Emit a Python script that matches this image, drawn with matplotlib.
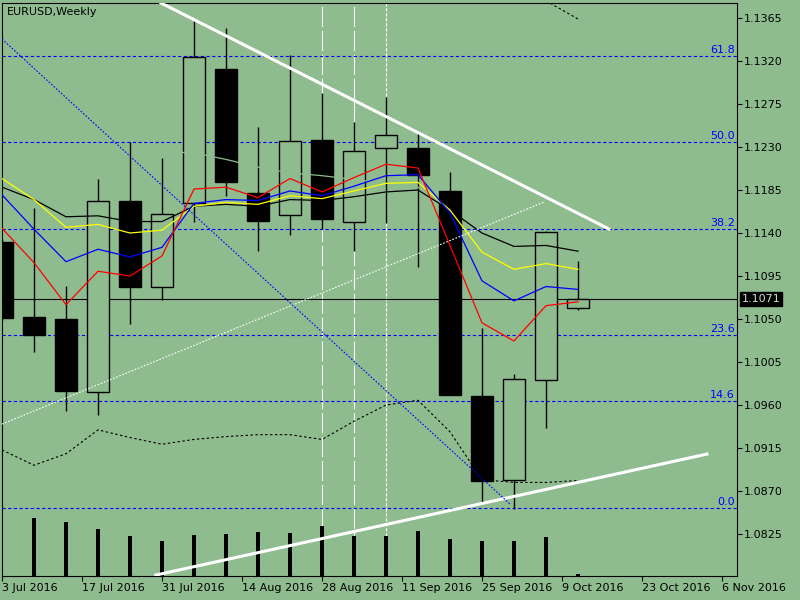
import matplotlib
matplotlib.use('Agg')
import matplotlib.pyplot as plt
from matplotlib.patches import Rectangle
from matplotlib.transforms import blended_transform_factory

# EURUSD weekly candles (bar index 0..18)
bar_idx = list(range(19))
opens  = [1.1131, 1.1052, 1.1050, 1.0974, 1.1173, 1.1083, 1.1171, 1.1312, 1.1182, 1.1159,
          1.1237, 1.1152, 1.1229, 1.1229, 1.1184, 1.0969, 1.0882, 1.0986, 1.1062]
highs  = [1.1134, 1.1166, 1.1085, 1.1197, 1.1235, 1.1218, 1.1362, 1.1355, 1.1251, 1.1326,
          1.1286, 1.1256, 1.1282, 1.1245, 1.1204, 1.1041, 1.0992, 1.1142, 1.1111]
lows   = [1.1048, 1.1016, 1.0954, 1.0950, 1.1045, 1.1070, 1.1152, 1.1179, 1.1121, 1.1138,
          1.1144, 1.1121, 1.1151, 1.1104, 1.0970, 1.0857, 1.0851, 1.0936, 1.1059]
closes = [1.1051, 1.1033, 1.0975, 1.1173, 1.1083, 1.1160, 1.1324, 1.1193, 1.1153, 1.1236,
          1.1155, 1.1226, 1.1243, 1.1201, 1.0971, 1.0881, 1.0987, 1.1141, 1.1071]

# moving averages
ma_red    = [1.1145, 1.1109, 1.1065, 1.1100, 1.1095, 1.1116, 1.1186, 1.1188, 1.1177, 1.1197,
             1.1183, 1.1198, 1.1212, 1.1208, 1.1127, 1.1046, 1.1027, 1.1064, 1.1068]
ma_blue   = [1.1180, 1.1144, 1.1110, 1.1123, 1.1115, 1.1125, 1.1171, 1.1175, 1.1174, 1.1184,
             1.1179, 1.1189, 1.1200, 1.1201, 1.1161, 1.1090, 1.1069, 1.1084, 1.1081]
ma_yellow = [1.1197, 1.1175, 1.1146, 1.1149, 1.1140, 1.1143, 1.1168, 1.1172, 1.1170, 1.1179,
             1.1176, 1.1184, 1.1192, 1.1193, 1.1164, 1.1120, 1.1102, 1.1108, 1.1102]
ma_black  = [1.1188, 1.1175, 1.1157, 1.1158, 1.1152, 1.1152, 1.1168, 1.1170, 1.1168, 1.1175,
             1.1174, 1.1178, 1.1183, 1.1185, 1.1164, 1.1140, 1.1126, 1.1127, 1.1121]
# this one is drawn in the background colour, so it only shows on black bodies
ma_hidden_idx = list(range(5, 15))
ma_hidden = [1.1225, 1.1224, 1.1217, 1.1209, 1.1203, 1.1200, 1.1196, 1.1192, 1.1188, 1.1164]

# envelope (dashed)
band_low = [1.0913, 1.0897, 1.0909, 1.0934, 1.0926, 1.0919, 1.0924, 1.0927, 1.0929, 1.0929,
            1.0924, 1.0943, 1.0960, 1.0965, 1.0932, 1.0882, 1.0879, 1.0879, 1.0881]
band_up_idx = [17, 18]
band_up = [1.1383, 1.1364]

# volume
vol_idx = list(range(1, 19))
volumes = [58, 54, 47, 40, 35, 41, 42, 44, 43, 50, 40, 40, 45, 37, 35, 35, 39, 2]

# fibonacci
fib_low = 1.08522
fib_high = 1.16176
fib_levels = [0.0, 14.6, 23.6, 38.2, 50.0, 61.8]

# trend lines (bar, price)
trend_top = [(4.97, 1.13807), (18.97, 1.11442)]
trend_bottom = [(4.81, 1.07821), (22.03, 1.09087)]
trend_dotted_white = [(0.0, 1.09401), (16.94, 1.11724)]
trend_dotted_blue = [(0.0, 1.13430), (15.875, 1.08564)]
vlines_long = [10, 11]
vlines_short = [12]

bid = 1.1071

y_ticks = [1.0825, 1.0870, 1.0915, 1.0960, 1.1005, 1.1050, 1.1095,
           1.1140, 1.1185, 1.1230, 1.1275, 1.1320, 1.1365]
x_ticks = [0, 2.5, 5, 7.5, 10, 12.5, 15, 17.5, 20, 22.5]
x_labels = ['3 Jul 2016', '17 Jul 2016', '31 Jul 2016', '14 Aug 2016', '28 Aug 2016',
            '11 Sep 2016', '25 Sep 2016', '9 Oct 2016', '23 Oct 2016', '6 Nov 2016']

bg = '#8fbc8f'
plt.rcParams['font.family'] = ['DejaVu Sans']

fig = plt.figure(figsize=(8, 6), dpi=100, facecolor=bg)
ax = fig.add_axes([2 / 800, 24 / 600, 735 / 800, 573 / 600])
ax.set_facecolor(bg)
ax.set_xlim(0, 22.97)
ax.set_ylim(1.07811, 1.13807)

# volume on a twin axis (under the price axis)
axv = ax.twinx()
axv.set_ylim(0, 573)
axv.set_yticks([])
axv.set_zorder(0)
ax.set_zorder(1)
ax.patch.set_visible(False)
for s in axv.spines.values():
    s.set_visible(False)

# vertical dashed lines
for v in vlines_long:
    axv.axvline(v, color='white', lw=0.8, dashes=(18, 3.5), zorder=1)
for v in vlines_short:
    axv.axvline(v, color='white', lw=0.8, dashes=(3, 1.5), zorder=1)
axv.bar(vol_idx, volumes, width=0.1, color='black', zorder=2)

# fibonacci levels
for lvl in fib_levels:
    price = fib_low + (fib_high - fib_low) * lvl / 100
    ax.axhline(price, color='#0000ff', lw=0.8, dashes=(2.9, 2.2), zorder=1)
    ax.text(22.9, price + 0.0001, f'{lvl:.1f}', color='#0000ff', fontsize=8,
            ha='right', va='bottom', zorder=5)

ax.axhline(bid, color='black', lw=0.8, zorder=1)

# candles
w = 0.69
for i, o, h, l, c in zip(bar_idx, opens, highs, lows, closes):
    ax.vlines(i, l, h, color='black', lw=1, zorder=2)
    face = bg if c >= o else 'black'
    ax.add_patch(Rectangle((i - w / 2, min(o, c)), w, abs(c - o),
                           facecolor=face, edgecolor='black', lw=1, zorder=2))

ax.plot(ma_hidden_idx, ma_hidden, color=bg, lw=0.9, zorder=3)
ax.plot(bar_idx, ma_black, color='black', lw=0.9, zorder=3)
ax.plot(bar_idx, ma_yellow, color='yellow', lw=0.9, zorder=3)
ax.plot(bar_idx, ma_blue, color='#0000ff', lw=0.9, zorder=3)
ax.plot(bar_idx, ma_red, color='red', lw=0.9, zorder=3)
ax.plot(bar_idx, band_low, color='black', lw=0.8, dashes=(2.2, 2.2), zorder=3)
ax.plot(band_up_idx, band_up, color='black', lw=0.8, dashes=(2.2, 2.2), zorder=3)

# trend lines
for pts, col, kw in [(trend_top, 'white', dict(lw=2.2)),
                     (trend_bottom, 'white', dict(lw=2.2)),
                     (trend_dotted_white, 'white', dict(lw=0.8, dashes=(1.5, 1.5))),
                     (trend_dotted_blue, '#0000ff', dict(lw=0.8, dashes=(1.5, 1.5)))]:
    xs = [p[0] for p in pts]
    ys = [p[1] for p in pts]
    ax.plot(xs, ys, color=col, zorder=4, **kw)

# axes
ax.yaxis.tick_right()
ax.set_yticks(y_ticks)
ax.set_yticklabels([f'{t:.4f}' for t in y_ticks])
ax.set_xticks(x_ticks)
ax.set_xticklabels(x_labels)
for lab in ax.get_xticklabels():
    lab.set_horizontalalignment('left')
ax.tick_params(axis='both', direction='out', length=3.5, width=0.8,
               labelsize=8, colors='black', pad=1.5)
for s in ax.spines.values():
    s.set_color('black')
    s.set_linewidth(0.8)

tr = blended_transform_factory(ax.transAxes, ax.transData)
ax.text(1.006, bid, f'{bid:.4f}', transform=tr, fontsize=8, color='#d0e0d0',
        va='center', ha='left', zorder=6,
        bbox=dict(facecolor='black', edgecolor='black', pad=1.2))

fig.text(7 / 800, 1 - 12 / 600, 'EURUSD,Weekly', fontsize=8, va='center', ha='left')

fig.savefig('out.png', dpi=100, facecolor=bg)
